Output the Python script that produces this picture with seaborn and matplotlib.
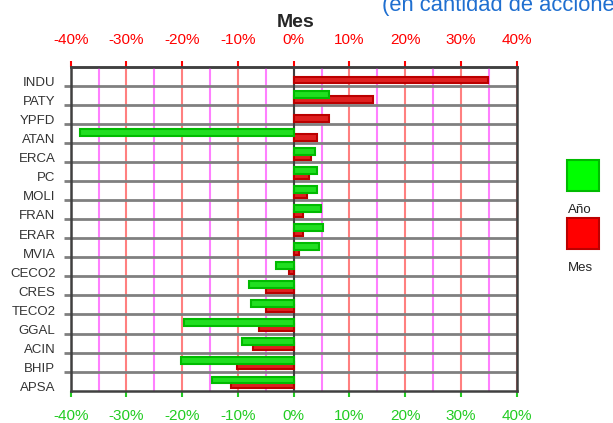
import numpy as np
import pandas as pd
import matplotlib.pyplot as plt
import matplotlib.transforms as mtransforms
from matplotlib.patches import Rectangle
import seaborn as sns

# Datos (variacion %)
acciones = ["INDU", "PATY", "YPFD", "ATAN", "ERCA", "PC", "MOLI", "FRAN", "ERAR",
            "MVIA", "CECO2", "CRES", "TECO2", "GGAL", "ACIN", "BHIP", "APSA"]
anio = [0.0, 6.3, 0.0, -38.4, 3.8, 4.2, 4.2, 4.9, 5.3,
        4.6, -3.1, -8.1, -7.7, -19.6, -9.2, -20.3, -14.6]
mes = [34.8, 14.3, 6.4, 4.2, 3.1, 2.8, 2.4, 1.7, 1.7,
       1.0, -0.9, -4.9, -4.9, -6.3, -7.3, -10.2, -11.3]
ticks = [-40, -30, -20, -10, 0, 10, 20, 30, 40]
tick_labels = ["-40%", "-30%", "-20%", "-10%", "0%", "10%", "20%", "30%", "40%"]

df = pd.DataFrame({
    "accion": acciones * 2,
    "valor": anio + mes,
    "serie": ["Año"] * len(acciones) + ["Mes"] * len(acciones),
})

sns.set_style("white")
plt.rcParams["font.family"] = ["Liberation Sans", "DejaVu Sans"]

fig = plt.figure(figsize=(6.13, 4.23), dpi=100)
ax = fig.add_axes([0.1153, 0.0764, 0.7276, 0.766])

sns.barplot(data=df, x="valor", y="accion", hue="serie", orient="h",
            palette={"Año": "#00FF00", "Mes": "#FF0000"},
            width=0.52, gap=-0.4, dodge=True, legend=False, ax=ax,
            linewidth=1.5, zorder=3)

# bordes mas oscuros, verde por encima del rojo
for bar in ax.patches:
    if bar.get_width() == 0:
        bar.set_visible(False)
    fc = bar.get_facecolor()
    if fc[1] > 0.5:
        bar.set_edgecolor("#00BB00")
        bar.set_zorder(4)
    else:
        bar.set_edgecolor("#BB0000")

n = len(acciones)
ax.set_xlim(-40, 40)
ax.set_ylim(n - 0.57, -0.57)
ax.set_xlabel("")
ax.set_ylabel("")

# grilla
ax.set_xticks(ticks)
ax.set_xticklabels(tick_labels)
ax.set_xticks(np.arange(-35, 40, 10), minor=True)
ax.set_yticks(np.arange(n - 1) + 0.43, minor=True)
ax.set_axisbelow(True)
ax.grid(axis="x", which="major", color="#FF8080", lw=1.5)
ax.grid(axis="x", which="minor", color="#FF80FF", lw=1.5)
ax.grid(axis="y", which="minor", color="#808080", lw=2)
ax.axvline(0, color="#404040", lw=1.5, zorder=2)

for s in ax.spines.values():
    s.set_color("#404040")
    s.set_linewidth(1.8)
    s.set_visible(True)

ax.tick_params(axis="x", which="major", colors="#22CC22", length=4.5, width=1.5,
               pad=9, labelsize=11, direction="out", bottom=True)
ax.tick_params(axis="x", which="minor", length=0)
ax.tick_params(axis="y", which="major", length=0, labelsize=9.5,
               labelcolor="#333333", pad=11)
ax.tick_params(axis="y", which="minor", length=5, width=2, color="#808080",
               direction="out", left=True)

# etiquetas de categoria un poco mas abajo
offset = mtransforms.ScaledTranslation(0, -4 / 100, fig.dpi_scale_trans)
for lab in ax.get_yticklabels():
    lab.set_transform(lab.get_transform() + offset)

top = ax.secondary_xaxis("top")
top.set_xticks(ticks)
top.set_xticklabels(tick_labels)
top.tick_params(colors="#FF0000", length=4.5, width=1.5, pad=10, labelsize=11)
top.spines["top"].set_color("#404040")
top.spines["top"].set_linewidth(1.8)

fig.text(296 / 613, 1 - 26.7 / 423, "Mes", ha="center", va="baseline",
         fontsize=14, fontweight="bold")
fig.text(382.5 / 613, 1 - 11 / 423, "(en cantidad de acciones)", ha="left",
         va="baseline", fontsize=15.8, color="#1F6FD0")

# leyenda
fig.add_artist(Rectangle((567 / 613, 1 - 191 / 423), 32 / 613, 31 / 423,
                         transform=fig.transFigure, facecolor="#00FF00",
                         edgecolor="#00BB00", lw=1.5))
fig.text(568 / 613, 1 - 213 / 423, "Año", fontsize=9.5, color="#222222")
fig.add_artist(Rectangle((567 / 613, 1 - 249 / 423), 32 / 613, 31 / 423,
                         transform=fig.transFigure, facecolor="#FF0000",
                         edgecolor="#BB0000", lw=1.5))
fig.text(568 / 613, 1 - 271 / 423, "Mes", fontsize=9.5, color="#222222")

plt.savefig("out.png", dpi=100)
plt.close()
